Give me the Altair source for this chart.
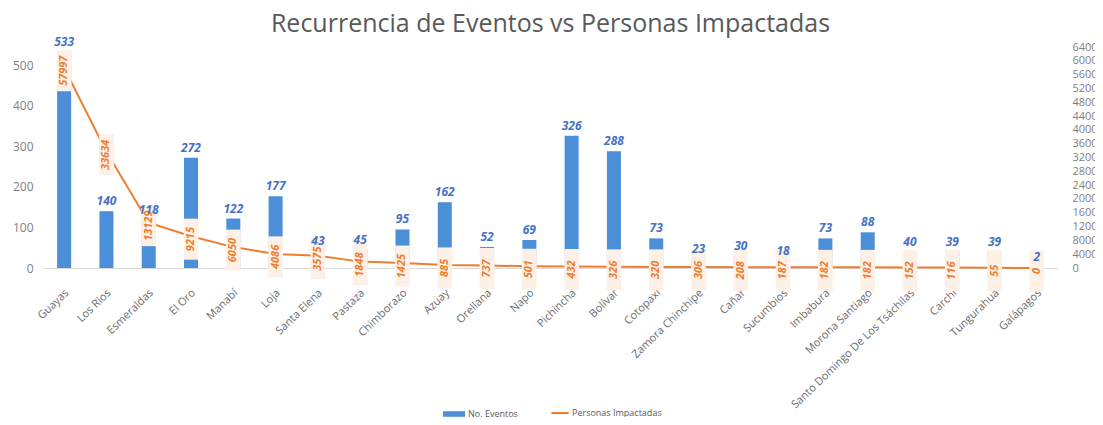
import altair as alt
import pandas as pd

provincias = ["Guayas", "Los Rios", "Esmeraldas", "El Oro", "Manabí", "Loja", "Santa Elena",
              "Pastaza", "Chimborazo", "Azuay", "Orellana", "Napo", "Pichincha", "Bolívar",
              "Cotopaxi", "Zamora Chinchipe", "Cañar", "Sucumbios", "Imbabura", "Morona Santiago",
              "Santo Domingo De Los Tsáchilas", "Carchi", "Tungurahua", "Galápagos"]
eventos = [533, 140, 118, 272, 122, 177, 43, 45, 95, 162, 52, 69, 326, 288, 73, 23, 30, 18,
           73, 88, 40, 39, 39, 2]
personas = [57997, 33634, 13129, 9215, 6050, 4086, 3575, 1848, 1425, 885, 737, 501, 432, 326,
            320, 306, 208, 187, 182, 182, 152, 116, 55, 0]
left_ticks = [0, 100, 200, 300, 400, 500]
right_ticks = list(range(0, 64001, 4000))

df = pd.DataFrame({"prov": provincias, "eventos": eventos, "personas": personas})
df["s1"] = "No. Eventos"
df["s2"] = "Personas Impactadas"

BLUE = "#4a8fd7"
ORANGE = "#ed7d31"
GREY = "#7f7f7f"

x_axis = alt.Axis(labelAngle=-44, labelAlign="right", labelBaseline="middle",
                  labelPadding=23, labelOffset=3, ticks=False, domainColor="#d9d9d9",
                  grid=False, labelColor="#6b6b6b", labelFontSize=11)
x_scale = alt.Scale(paddingInner=0.0, paddingOuter=0.0)
x = alt.X("prov:N", sort=None, title=None, scale=x_scale, axis=x_axis)

yl_scale = alt.Scale(domain=[0, 545], nice=False)
yr_scale = alt.Scale(domain=[0, 64000], nice=False)
yl_axis = alt.Axis(values=left_ticks, grid=False, ticks=False, domain=False,
                   labelColor=GREY, labelFontSize=12, labelPadding=10, orient="left")
yr_axis = alt.Axis(values=right_ticks, grid=False, ticks=False, domain=False, format="d",
                   labelColor=GREY, labelFontSize=11, labelPadding=14,
                   labelAlign="left", orient="right")
yl = alt.Y("eventos:Q", scale=yl_scale, title=None, axis=yl_axis)
yr = alt.Y("personas:Q", scale=yr_scale, title=None, axis=yr_axis)

bars = alt.Chart(df).mark_bar(size=14).encode(
    x=x,
    y=yl,
    fill=alt.Fill("s1:N", scale=alt.Scale(domain=["No. Eventos"], range=[BLUE]),
                  legend=alt.Legend(title=None, orient="none", legendX=400, legendY=356,
                                    symbolType="M-1,-0.25L1,-0.25L1,0.25L-1,0.25Z",
                                    symbolSize=484, symbolStrokeWidth=0,
                                    labelFontSize=9, labelColor="#595959", padding=0,
                                    labelOffset=3)),
)
bar_text = alt.Chart(df).mark_text(baseline="bottom", dy=-3, fontSize=12, fontWeight="bold",
                                   fontStyle="italic", color="#4472c4").encode(
    x=x,
    y=alt.Y("eventos:Q", scale=yl_scale, title=None, axis=None),
    text="eventos:Q",
)

line = alt.Chart(df).mark_line(strokeWidth=2).encode(
    x=x,
    y=yr,
    stroke=alt.Stroke("s2:N", scale=alt.Scale(domain=["Personas Impactadas"], range=[ORANGE]),
                      legend=alt.Legend(title=None, orient="none", legendX=507, legendY=356,
                                        symbolType="stroke", symbolSize=300,
                                        symbolStrokeWidth=2, labelFontSize=9,
                                        labelColor="#595959", padding=0, labelOffset=2)),
)
boxes = alt.Chart(df).mark_point(shape="M-0.36,-1L0.36,-1L0.36,1L-0.36,1Z", size=1681,
                                 filled=True, fill="#fdf0e6", opacity=1, strokeWidth=0,
                                 yOffset=3).encode(
    x=x, y=yr,
)
line_text = alt.Chart(df).mark_text(angle=270, fontSize=11, fontWeight="bold",
                                    fontStyle="italic", color=ORANGE, baseline="middle",
                                    align="center", yOffset=3).encode(
    x=x, y=yr, text="personas:Q",
)
right = alt.layer(line, boxes, line_text)

chart = alt.layer(bars, right, bar_text).resolve_scale(
    y="independent", fill="independent", stroke="independent").properties(
    width=1015, height=221,
    autosize=alt.AutoSizeParams(type="none"),
    padding={"left": 35, "top": 39, "right": 37, "bottom": 149},
    title=alt.Title("Recurrencia de Eventos vs Personas Impactadas", fontSize=25,
                    fontWeight="normal", color="#595959", anchor="middle", offset=-1,
                    frame="group"),
).configure(font="Open Sans").configure_view(stroke=None)

chart.save("out.html", embed_options={"renderer": "svg", "actions": False})
